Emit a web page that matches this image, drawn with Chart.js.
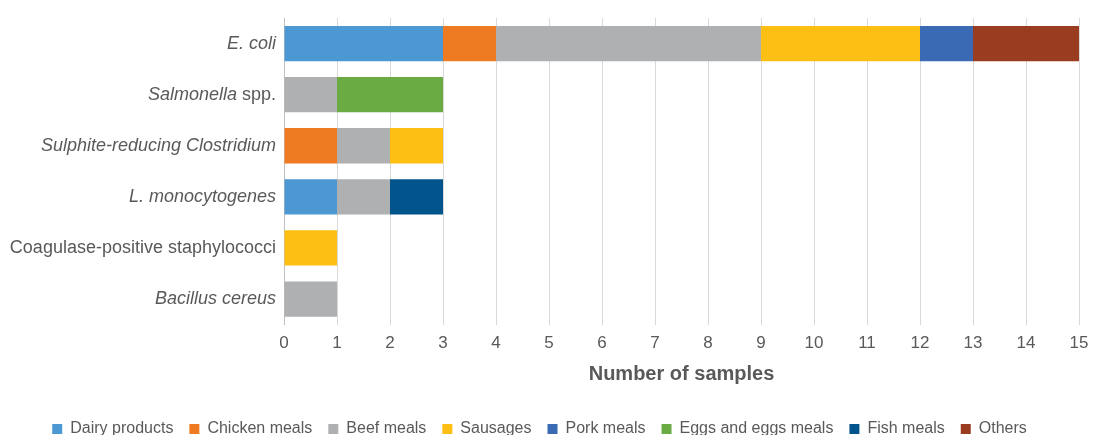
<!DOCTYPE html>
<html>
<head>
<meta charset="utf-8">
<script src="https://cdn.jsdelivr.net/npm/chart.js@4"></script>
<style>
html,body{margin:0;padding:0;background:#fff;}
#wrap{width:1100px;height:435px;position:relative;}
</style>
</head>
<body>
<div id="wrap"><canvas id="c"></canvas></div>
<script>
const categories = ['E. coli', 'Salmonella spp.', 'Sulphite-reducing Clostridium', 'L. monocytogenes', 'Coagulase-positive staphylococci', 'Bacillus cereus'];
// label segments: [text, italic]
const categoryParts = [
  [['E. coli', true]],
  [['Salmonella', true], [' spp.', false]],
  [['Sulphite-reducing Clostridium', true]],
  [['L. monocytogenes', true]],
  [['Coagulase-positive staphylococci', false]],
  [['Bacillus cereus', true]]
];
const seriesNames = ['Dairy products', 'Chicken meals', 'Beef meals', 'Sausages', 'Pork meals', 'Eggs and eggs meals', 'Fish meals', 'Others'];
const dairy    = [3, 0, 0, 1, 0, 0];
const chicken  = [1, 0, 1, 0, 0, 0];
const beef     = [5, 1, 1, 1, 0, 1];
const sausages = [3, 0, 1, 0, 1, 0];
const pork     = [1, 0, 0, 0, 0, 0];
const eggs     = [0, 2, 0, 0, 0, 0];
const fish     = [0, 0, 0, 1, 0, 0];
const others   = [2, 0, 0, 0, 0, 0];
const xTicks = [0,1,2,3,4,5,6,7,8,9,10,11,12,13,14,15];
const colors = ['#4b98d2', '#ee7b22', '#afb0b2', '#fdbf14', '#3a6ab3', '#6aab44', '#02548c', '#9a3c20'];
const seriesValues = [dairy, chicken, beef, sausages, pork, eggs, fish, others];

const FONT = '"Liberation Sans", Arial, sans-serif';
const TXT = '#595959';

const richLabels = {
  id: 'richLabels',
  afterLayout(chart) {
    if (chart.legend) {
      chart.legend.top += 19;
      chart.legend.bottom += 19;
    }
  },
  afterDraw(chart) {
    const ctx = chart.ctx;
    const ys = chart.scales.y;
    const xRight = chart.chartArea.left - 8;
    ctx.save();
    ctx.fillStyle = TXT;
    ctx.textBaseline = 'middle';
    ctx.textAlign = 'left';
    categoryParts.forEach((parts, i) => {
      const y = ys.getPixelForValue(i);
      let total = 0;
      const widths = parts.map(([t, it]) => {
        ctx.font = (it ? 'italic ' : '') + '18px ' + FONT;
        const w = ctx.measureText(t).width;
        total += w;
        return w;
      });
      let x = xRight - total;
      parts.forEach(([t, it], k) => {
        ctx.font = (it ? 'italic ' : '') + '18px ' + FONT;
        ctx.fillText(t, x, y);
        x += widths[k];
      });
    });
    ctx.restore();
  }
};

new Chart(document.getElementById('c'), {
  type: 'bar',
  data: {
    labels: categories,
    datasets: seriesNames.map((n, i) => ({
      label: n,
      data: seriesValues[i],
      backgroundColor: colors[i],
      borderWidth: 0,
      categoryPercentage: 1,
      barPercentage: 0.69
    }))
  },
  options: {
    indexAxis: 'y',
    responsive: true,
    maintainAspectRatio: false,
    animation: false,
    layout: { padding: { left: 0, right: 21, top: 18, bottom: 7 } },
    scales: {
      x: {
        stacked: true,
        min: 0, max: 15,
        afterBuildTicks(scale) { scale.ticks = xTicks.map(v => ({ value: v })); },
        grid: { color: '#d9d9d9', lineWidth: 1, drawTicks: false },
        border: { display: false },
        ticks: { color: TXT, font: { family: FONT, size: 17 }, padding: 9 },
        title: { display: true, text: 'Number of samples', color: TXT, font: { family: FONT, size: 20, weight: 'bold' }, padding: { top: -1, bottom: 0 } }
      },
      y: {
        stacked: true,
        grid: { display: false },
        border: { display: true, color: '#bfbfbf' },
        ticks: { display: false },
        afterFit(scale) { scale.width = 284; }
      }
    },
    plugins: {
      legend: {
        position: 'bottom',
        labels: { color: TXT, font: { family: FONT, size: 16 }, boxWidth: 10, boxHeight: 10, padding: 16 }
      },
      tooltip: { enabled: false }
    }
  },
  plugins: [richLabels]
});
</script>
</body>
</html>
